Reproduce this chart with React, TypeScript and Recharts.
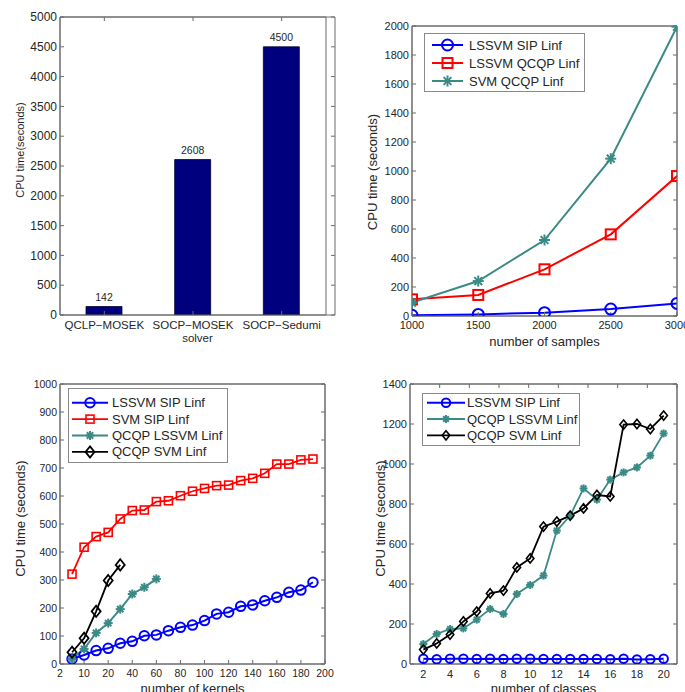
import React from 'react';
import { BarChart, Bar, LineChart, Line, XAxis, YAxis, LabelList, Label, Legend, ReferenceArea } from 'recharts';

const FONT = '"Liberation Sans", Arial, Helvetica, sans-serif';
const AXIS = '#6b6b6b';
const TEXT = '#262626';
const BLUE = '#0000ff';
const RED = '#ff0000';
const TEAL = '#3a8a86';
const BLACK = '#000000';
const NAVY = '#00007f';

// ---------- Panel 1: solver comparison ----------
const solvers = ['QCLP\u2212MOSEK', 'SOCP\u2212MOSEK', 'SOCP\u2212Sedumi'];
const solverTimes = [142, 2608, 4500];
const solverYTicks = [0, 500, 1000, 1500, 2000, 2500, 3000, 3500, 4000, 4500, 5000];

// ---------- Panel 2: number of samples ----------
const samples = [1000, 1500, 2000, 2500, 3000];
const samplesLssvmSip = [5, 11, 23, 48, 87];
const samplesLssvmQcqp = [115, 145, 322, 563, 965];
const samplesSvmQcqp = [92, 241, 524, 1085, 1995];
const samplesXTicks = [1000, 1500, 2000, 2500, 3000];
const samplesYTicks = [0, 200, 400, 600, 800, 1000, 1200, 1400, 1600, 1800, 2000];

// ---------- Panel 3: number of kernels ----------
const kernels = [5, 10, 15, 20, 30, 40, 50, 60, 70, 80, 90, 100, 110, 120, 130, 140, 150, 160, 170, 180, 190];
const kernelsLssvmSip = [18, 32, 48, 56, 74, 81, 101, 104, 119, 131, 139, 155, 179, 185, 206, 211, 226, 238, 256, 264, 292];
const kernelsSvmSip = [321, 417, 455, 470, 518, 548, 550, 580, 583, 601, 617, 627, 637, 639, 655, 663, 681, 714, 714, 729, 732];
const kernelsQcqpLssvm = [18, 54, 111, 146, 196, 250, 274, 304];
const kernelsQcqpSvm = [42, 92, 188, 298, 354];
const kernelTickLabels = ['2', '10', '20', '40', '60', '80', '100', '120', '140', '160', '180', '200'];
const kernelYTicks = [0, 100, 200, 300, 400, 500, 600, 700, 800, 900, 1000];

// ---------- Panel 4: number of classes ----------
const classes = [2, 3, 4, 5, 6, 7, 8, 9, 10, 11, 12, 13, 14, 15, 16, 17, 18, 19, 20];
const classesLssvmSip = [26, 24, 26, 26, 25, 26, 25, 26, 26, 25, 25, 25, 25, 25, 24, 26, 23, 24, 26];
const classesQcqpLssvm = [100, 150, 175, 178, 222, 275, 250, 350, 395, 442, 667, 742, 878, 822, 922, 958, 983, 1042, 1153];
const classesQcqpSvm = [72, 103, 147, 213, 262, 353, 367, 483, 528, 687, 712, 742, 778, 845, 838, 1197, 1200, 1175, 1242];
const classesXTicks = [2, 4, 6, 8, 10, 12, 14, 16, 18, 20];
const classesYTicks = [0, 200, 400, 600, 800, 1000, 1200, 1400];

// ---------- shared drawing helpers ----------
type Kind = 'circle' | 'square' | 'star' | 'diamond';

const Marker = ({ kind, cx, cy, size, color, sw }: { kind: Kind; cx: number; cy: number; size: number; color: string; sw: number }) => {
  if (kind === 'circle') {
    return <circle cx={cx} cy={cy} r={size / 2} fill="none" stroke={color} strokeWidth={sw} />;
  }
  if (kind === 'square') {
    return <rect x={cx - size / 2} y={cy - size / 2} width={size} height={size} fill="none" stroke={color} strokeWidth={sw} />;
  }
  if (kind === 'diamond') {
    const w = size / 2;
    const h = size * 0.62;
    return (
      <polygon
        points={`${cx},${cy - h} ${cx + w},${cy} ${cx},${cy + h} ${cx - w},${cy}`}
        fill="none"
        stroke={color}
        strokeWidth={sw}
      />
    );
  }
  const r = size / 2;
  const d = r * 0.7071;
  return (
    <g stroke={color} strokeWidth={sw}>
      <line x1={cx - r} y1={cy} x2={cx + r} y2={cy} />
      <line x1={cx} y1={cy - r} x2={cx} y2={cy + r} />
      <line x1={cx - d} y1={cy - d} x2={cx + d} y2={cy + d} />
      <line x1={cx - d} y1={cy + d} x2={cx + d} y2={cy - d} />
    </g>
  );
};

const makeDot = (kind: Kind, size: number, color: string, sw: number) => (p: any) => {
  if (p.cx == null || p.cy == null) return <g key={`d-${p.index}`} />;
  return <Marker key={`d-${p.index}`} kind={kind} cx={p.cx} cy={p.cy} size={size} color={color} sw={sw} />;
};

const noTick = () => <g />;

type Item = { name: string; color: string; marker: Kind; size: number; sw: number; lw: number };

const LegendBox = ({ items, w, h, top, row, lx1, lx2, tx, fs }: { items: Item[]; w: number; h: number; top: number; row: number; lx1: number; lx2: number; tx: number; fs: number }) => (
  <svg width={w} height={h} style={{ display: 'block' }}>
    <rect x={0.5} y={0.5} width={w - 1} height={h - 1} fill="#ffffff" stroke="#8a8a8a" strokeWidth={1} />
    {items.map((it, i) => {
      const cy = top + i * row;
      const mx = (lx1 + lx2) / 2;
      return (
        <g key={it.name}>
          <line x1={lx1} y1={cy} x2={lx2} y2={cy} stroke={it.color} strokeWidth={it.lw} />
          <Marker kind={it.marker} cx={mx} cy={cy} size={it.size} color={it.color} sw={it.sw} />
          <text x={tx} y={cy} dy="0.35em" fontSize={fs} fill={TEXT} fontFamily={FONT}>
            {it.name}
          </text>
        </g>
      );
    })}
  </svg>
);

const xTitle = (text: string, dy: number, fs: number) => (props: any) => {
  const vb = props.viewBox || { x: 0, y: 0, width: 0, height: 0 };
  return (
    <text x={vb.x + vb.width / 2} y={vb.y + dy} dy="0.35em" textAnchor="middle" fontSize={fs} fill={TEXT} fontFamily={FONT}>
      {text}
    </text>
  );
};

const yTitle = (text: string, dx: number, dy: number, fs: number) => (props: any) => {
  const vb = props.viewBox || { x: 0, y: 0, width: 0, height: 0 };
  const x = vb.x + dx;
  const y = vb.y + vb.height / 2 + dy;
  return (
    <text x={x} y={y} dy="0.35em" textAnchor="middle" fontSize={fs} fill={TEXT} fontFamily={FONT} transform={`rotate(-90 ${x} ${y})`}>
      {text}
    </text>
  );
};

const tickStyle = (fs: number) => ({ fontSize: fs, fill: TEXT, fontFamily: FONT });

// ---------- Panels ----------
const SolverPanel = () => {
  const data = solvers.map((name, i) => ({ name, time: solverTimes[i] }));
  return (
    <BarChart width={342} height={346} data={data} margin={{ top: 16, right: 6, left: 0, bottom: 0 }} style={{ fontFamily: FONT }}>
      <XAxis dataKey="name" type="category" height={31} padding={{ left: 0, right: 9 }} interval={0}
        axisLine={{ stroke: AXIS }} tickLine={{ stroke: AXIS }} tickSize={-4} tickMargin={10} tick={tickStyle(11.5)}>
        <Label content={xTitle('solver', 23, 11.5)} />
      </XAxis>
      <XAxis xAxisId="top" orientation="top" dataKey="name" type="category" height={1} padding={{ left: 0, right: 9 }} interval={0}
        axisLine={{ stroke: AXIS }} tickLine={{ stroke: AXIS }} tickSize={-4} tick={noTick} />
      <YAxis type="number" domain={[0, 5000]} ticks={solverYTicks} width={60} interval={0} allowDataOverflow
        axisLine={{ stroke: AXIS }} tickLine={{ stroke: AXIS }} tickSize={-4} tickMargin={7} tick={tickStyle(12)}>
        <Label content={yTitle('CPU time(seconds)', 20, -16, 11)} />
      </YAxis>
      <YAxis yAxisId="right" orientation="right" type="number" domain={[0, 5000]} ticks={solverYTicks} width={1} interval={0} allowDataOverflow
        axisLine={{ stroke: AXIS }} tickLine={{ stroke: AXIS }} tickSize={-4} tick={noTick} />
      <ReferenceArea y1={0} y2={5000} fill="none" stroke={AXIS} strokeWidth={1} ifOverflow="visible" />
      <Bar dataKey="time" fill={NAVY} stroke="#000033" strokeWidth={0.8} barSize={36} isAnimationActive={false}>
        <LabelList dataKey="time" position="top" offset={6} style={{ fontSize: 10.5, fill: TEXT, fontFamily: FONT }} />
      </Bar>
    </BarChart>
  );
};

const sampleItems: Item[] = [
  { name: 'LSSVM SIP Linf', color: BLUE, marker: 'circle', size: 11, sw: 2, lw: 2 },
  { name: 'LSSVM QCQP Linf', color: RED, marker: 'square', size: 10, sw: 2, lw: 2 },
  { name: 'SVM QCQP Linf', color: TEAL, marker: 'star', size: 11, sw: 2, lw: 2 },
];

const SamplesPanel = () => {
  const data = samples.map((x, i) => ({
    x,
    lssvmSip: samplesLssvmSip[i],
    lssvmQcqp: samplesLssvmQcqp[i],
    svmQcqp: samplesSvmQcqp[i],
  }));
  const keys = ['lssvmSip', 'lssvmQcqp', 'svmQcqp'];
  return (
    <LineChart width={343} height={352} data={data} margin={{ top: 25, right: 7, left: 0, bottom: 6 }} style={{ fontFamily: FONT }}>
      <XAxis dataKey="x" type="number" domain={[1000, 3000]} ticks={samplesXTicks} height={30} interval={0} allowDataOverflow
        axisLine={{ stroke: AXIS }} tickLine={{ stroke: AXIS }} tickSize={-4} tickMargin={9} tick={tickStyle(11)}>
        <Label content={xTitle('number of samples', 25, 13)} />
      </XAxis>
      <XAxis xAxisId="top" orientation="top" type="number" domain={[1000, 3000]} ticks={samplesXTicks} height={1} interval={0} allowDataOverflow
        axisLine={{ stroke: AXIS }} tickLine={{ stroke: AXIS }} tickSize={-4} tick={noTick} />
      <YAxis type="number" domain={[0, 2000]} ticks={samplesYTicks} width={70} interval={0} allowDataOverflow
        axisLine={{ stroke: AXIS }} tickLine={{ stroke: AXIS }} tickSize={-4} tickMargin={7} tick={tickStyle(11)}>
        <Label content={yTitle('CPU time (seconds)', 30, 1, 13)} />
      </YAxis>
      <YAxis yAxisId="right" orientation="right" type="number" domain={[0, 2000]} ticks={samplesYTicks} width={1} interval={0} allowDataOverflow
        axisLine={{ stroke: AXIS }} tickLine={{ stroke: AXIS }} tickSize={-4} tick={noTick} />
      <ReferenceArea x1={1000} x2={3000} y1={0} y2={2000} fill="none" stroke={AXIS} strokeWidth={1} ifOverflow="visible" />
      {sampleItems.map((it, i) => (
        <Line key={it.name} name={it.name} dataKey={keys[i]} stroke={it.color} strokeWidth={it.lw}
          dot={makeDot(it.marker, it.size, it.color, it.sw)} activeDot={false} isAnimationActive={false} />
      ))}
      <Legend layout="vertical" align="center" verticalAlign="middle"
        wrapperStyle={{ left: 82, top: 33, width: 161, height: 59 }}
        content={() => <LegendBox items={sampleItems} w={161} h={59} top={12} row={18} lx1={8} lx2={39} tx={45} fs={13} />} />
    </LineChart>
  );
};

const kernelItems: Item[] = [
  { name: 'LSSVM SIP Linf', color: BLUE, marker: 'circle', size: 9.5, sw: 2, lw: 2 },
  { name: 'SVM SIP Linf', color: RED, marker: 'square', size: 8, sw: 1.6, lw: 1.8 },
  { name: 'QCQP LSSVM Linf', color: TEAL, marker: 'star', size: 9, sw: 2, lw: 2 },
  { name: 'QCQP SVM Linf', color: BLACK, marker: 'diamond', size: 9, sw: 1.8, lw: 1.8 },
];

const KernelsPanel = () => {
  const series = [kernelsLssvmSip, kernelsSvmSip, kernelsQcqpLssvm, kernelsQcqpSvm].map((vals) =>
    vals.map((v, i) => ({ kernels: kernels[i], x: i + 1, y: v }))
  );
  const xTicks = kernelTickLabels.map((_, i) => i * 2);
  return (
    <LineChart width={342} height={346} margin={{ top: 37, right: 16, left: 0, bottom: 0 }} style={{ fontFamily: FONT }}>
      <XAxis dataKey="x" type="number" domain={[0, 22]} ticks={xTicks} height={28} interval={0} allowDataOverflow
        tickFormatter={(v: number) => kernelTickLabels[Math.round(v / 2)]}
        axisLine={{ stroke: AXIS }} tickLine={{ stroke: AXIS }} tickSize={-4} tickMargin={10} tick={tickStyle(10.5)}>
        <Label content={xTitle('number of kernels', 24, 13)} />
      </XAxis>
      <XAxis xAxisId="top" orientation="top" type="number" domain={[0, 22]} ticks={xTicks} height={1} interval={0} allowDataOverflow
        axisLine={{ stroke: AXIS }} tickLine={{ stroke: AXIS }} tickSize={-4} tick={noTick} />
      <YAxis type="number" domain={[0, 1000]} ticks={kernelYTicks} width={60} interval={0} allowDataOverflow
        axisLine={{ stroke: AXIS }} tickLine={{ stroke: AXIS }} tickSize={-4} tickMargin={7} tick={tickStyle(10.5)}>
        <Label content={yTitle('CPU time (seconds)', 20, -5.5, 13)} />
      </YAxis>
      <YAxis yAxisId="right" orientation="right" type="number" domain={[0, 1000]} ticks={kernelYTicks} width={1} interval={0} allowDataOverflow
        axisLine={{ stroke: AXIS }} tickLine={{ stroke: AXIS }} tickSize={-4} tick={noTick} />
      <ReferenceArea x1={0} x2={22} y1={0} y2={1000} fill="none" stroke={AXIS} strokeWidth={1} ifOverflow="visible" />
      {kernelItems.map((it, i) => (
        <Line key={it.name} name={it.name} data={series[i]} dataKey="y" stroke={it.color} strokeWidth={it.lw}
          dot={makeDot(it.marker, it.size, it.color, it.sw)} activeDot={false} isAnimationActive={false} />
      ))}
      <Legend layout="vertical" align="center" verticalAlign="middle"
        wrapperStyle={{ left: 68, top: 42, width: 160, height: 75 }}
        content={() => <LegendBox items={kernelItems} w={160} h={75} top={14.7} row={16.4} lx1={4} lx2={40} tx={44} fs={13} />} />
    </LineChart>
  );
};

const classItems: Item[] = [
  { name: 'LSSVM SIP Linf', color: BLUE, marker: 'circle', size: 8.5, sw: 2, lw: 2 },
  { name: 'QCQP LSSVM Linf', color: TEAL, marker: 'star', size: 8, sw: 2, lw: 1.8 },
  { name: 'QCQP SVM Linf', color: BLACK, marker: 'diamond', size: 7.5, sw: 1.6, lw: 1.8 },
];

const ClassesPanel = () => {
  const data = classes.map((x, i) => ({
    x,
    lssvmSip: classesLssvmSip[i],
    qcqpLssvm: classesQcqpLssvm[i],
    qcqpSvm: classesQcqpSvm[i],
  }));
  const keys = ['lssvmSip', 'qcqpLssvm', 'qcqpSvm'];
  return (
    <LineChart width={343} height={346} data={data} margin={{ top: 37, right: 7, left: 0, bottom: 0 }} style={{ fontFamily: FONT }}>
      <XAxis dataKey="x" type="number" domain={[1, 21]} ticks={classesXTicks} height={28} interval={0} allowDataOverflow
        axisLine={{ stroke: AXIS }} tickLine={{ stroke: AXIS }} tickSize={-4} tickMargin={10} tick={tickStyle(11)}>
        <Label content={xTitle('number of classes', 24, 13)} />
      </XAxis>
      <XAxis xAxisId="top" orientation="top" type="number" domain={[1, 21]} ticks={classesXTicks} height={1} interval={0} allowDataOverflow
        axisLine={{ stroke: AXIS }} tickLine={{ stroke: AXIS }} tickSize={-4} tick={noTick} />
      <YAxis type="number" domain={[0, 1400]} ticks={classesYTicks} width={68} interval={0} allowDataOverflow
        axisLine={{ stroke: AXIS }} tickLine={{ stroke: AXIS }} tickSize={-4} tickMargin={7} tick={tickStyle(11)}>
        <Label content={yTitle('CPU time (seconds)', 38, -5.5, 13)} />
      </YAxis>
      <YAxis yAxisId="right" orientation="right" type="number" domain={[0, 1400]} ticks={classesYTicks} width={1} interval={0} allowDataOverflow
        axisLine={{ stroke: AXIS }} tickLine={{ stroke: AXIS }} tickSize={-4} tick={noTick} />
      <ReferenceArea x1={1} x2={21} y1={0} y2={1400} fill="none" stroke={AXIS} strokeWidth={1} ifOverflow="visible" />
      {classItems.map((it, i) => (
        <Line key={it.name} name={it.name} dataKey={keys[i]} stroke={it.color} strokeWidth={it.lw}
          dot={makeDot(it.marker, it.size, it.color, it.sw)} activeDot={false} isAnimationActive={false} />
      ))}
      <Legend layout="vertical" align="center" verticalAlign="middle"
        wrapperStyle={{ left: 80, top: 47, width: 158, height: 53 }}
        content={() => <LegendBox items={classItems} w={158} h={53} top={9.7} row={16.3} lx1={5} lx2={43} tx={45} fs={13} />} />
    </LineChart>
  );
};

export default function App() {
  return (
    <div style={{ position: 'absolute', left: 0, top: 0, width: 685, height: 692, background: '#ffffff', overflow: 'hidden', fontFamily: FONT }}>
      <div style={{ position: 'absolute', left: 0, top: 0 }}>
        <SolverPanel />
      </div>
      <div style={{ position: 'absolute', left: 342, top: 0 }}>
        <SamplesPanel />
      </div>
      <div style={{ position: 'absolute', left: 0, top: 346 }}>
        <KernelsPanel />
      </div>
      <div style={{ position: 'absolute', left: 342, top: 346 }}>
        <ClassesPanel />
      </div>
    </div>
  );
}
